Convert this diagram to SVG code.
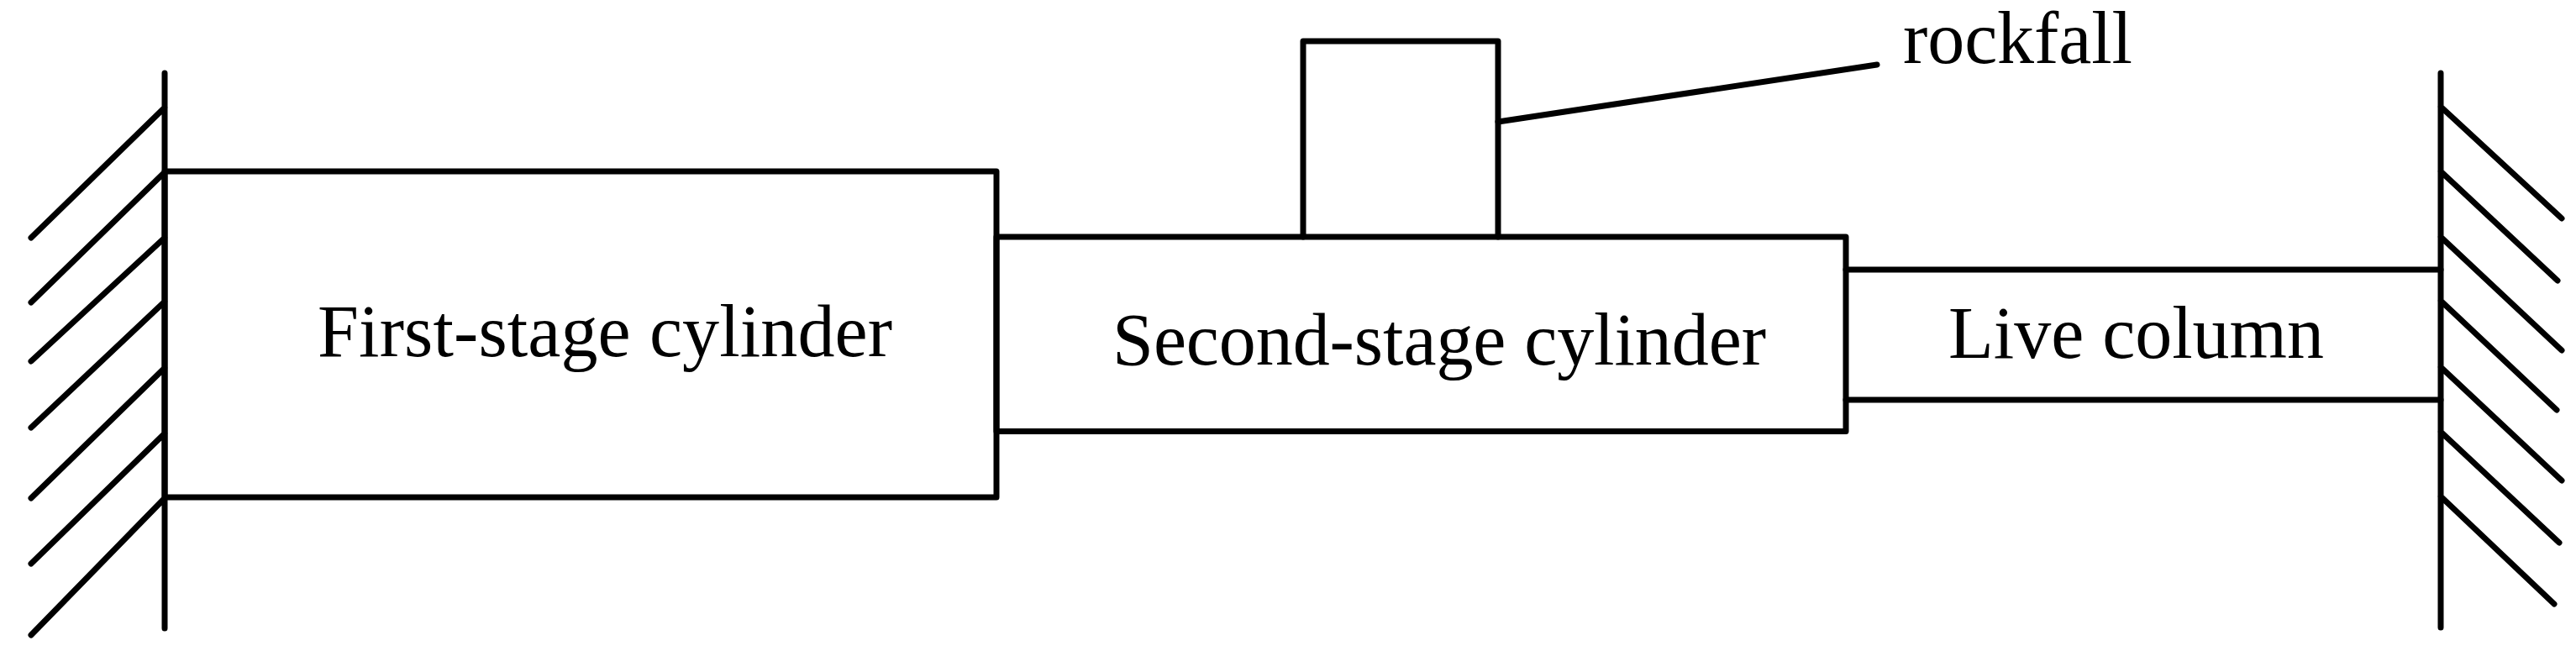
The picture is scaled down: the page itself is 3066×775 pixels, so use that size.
<svg xmlns="http://www.w3.org/2000/svg" width="3066" height="775" viewBox="0 0 3066 775">
<style>
.s{fill:none;stroke:#000;stroke-width:7;stroke-linecap:round;stroke-linejoin:round}
.t{font-family:"Liberation Serif","Times New Roman",serif;font-size:88px;fill:#000}
</style>
<rect width="3066" height="775" fill="#fff"/>
<g id="left-wall">
<path class="s" d="M196 87V748M196 128L37 283M196 205L37 360M196 283L37 430M196 359L37 509M196 438L37 593M196 516L37 671M196 593L37 756"/>
</g>
<g id="right-wall">
<path class="s" d="M2905 87V747M2905 127L3049 260M2905 204L3044 334M2905 282L3049 417M2905 358L3043 488M2905 437L3049 572M2905 514L3046 646M2905 591L3040 719"/>
</g>
<g id="first-stage-cylinder">
<rect class="s" x="196" y="204" width="990" height="388"/>
<text class="t" x="378" y="424" textLength="684">First-stage cylinder</text>
</g>
<g id="second-stage-cylinder">
<rect class="s" x="1186" y="282" width="1011" height="231.500"/>
<text class="t" x="1324" y="434" textLength="778">Second-stage cylinder</text>
</g>
<g id="live-column">
<path class="s" d="M2197 321H2905M2197 476H2905"/>
<text class="t" x="2319" y="426" textLength="447">Live column</text>
</g>
<g id="rockfall">
<path class="s" d="M1551 282V49H1783V282"/>
<text class="t" x="2265" y="75" textLength="273">rockfall</text>
</g>
<g id="connectors">
<path class="s" d="M1783 145L2234 77"/>
</g>
</svg>
